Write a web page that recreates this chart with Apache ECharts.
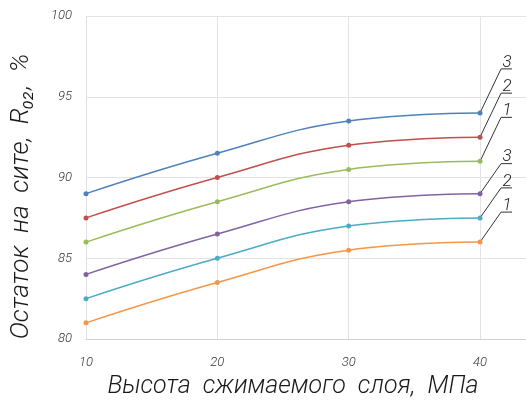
<!DOCTYPE html>
<html><head><meta charset="utf-8">
<script src="https://cdn.jsdelivr.net/npm/echarts@6/dist/echarts.min.js"></script>
<style>html,body{margin:0;padding:0;background:#fff}#c{width:526px;height:401px}</style>
</head><body><div id="c"></div>
<script>
const xValues = [10, 20, 30, 40];
const s3a = [89, 91.5, 93.5, 94];
const s2a = [87.5, 90, 92, 92.5];
const s1a = [86, 88.5, 90.5, 91];
const s3b = [84, 86.5, 88.5, 89];
const s2b = [82.5, 85, 87, 87.5];
const s1b = [81, 83.5, 85.5, 86];
const seriesValues = [s3a, s2a, s1a, s3b, s2b, s1b];
const seriesLabels = ['3', '2', '1', '3', '2', '1'];
const colors = ['#4f81bd', '#c0504d', '#9bbb59', '#8064a2', '#4bacc6', '#f79646'];
const leaderRise = [44, 44, 44, 30, 30, 30];
const FONT = 'Roboto';

const chart = echarts.init(document.getElementById('c'), null, {renderer: 'canvas'});
const lineSeries = seriesValues.map((vals, i) => ({
  type: 'line',
  data: vals.map((v, j) => [xValues[j], v]),
  smooth: 0.45,
  symbol: 'circle',
  symbolSize: 5,
  lineStyle: {color: colors[i], width: 1.5},
  itemStyle: {color: colors[i]},
  z: 3
}));
const endData = seriesValues.map((vals, i) => [xValues[xValues.length - 1], vals[vals.length - 1], i]);
const leaderSeries = {
  type: 'custom',
  data: endData,
  z: 2,
  silent: true,
  clip: false,
  renderItem(params, api) {
    const idx = api.value(2);
    const p = api.coord([api.value(0), api.value(1)]);
    const x1 = p[0] + 21, y1 = p[1] - leaderRise[idx];
    return {
      type: 'group',
      children: [
        {type: 'polyline', shape: {points: [[p[0], p[1]], [x1, y1], [x1 + 11, y1]]},
         style: {stroke: '#333', lineWidth: 1, fill: null}},
        {type: 'text', style: {text: seriesLabels[idx], x: x1 + 6, y: y1 + 2, align: 'center', verticalAlign: 'bottom',
          font: 'italic 300 17px ' + FONT, fill: '#222'}}
      ]
    };
  }
};

chart.setOption({
  animation: false,
  grid: {left: 86, right: -10, top: 16, bottom: 62, containLabel: false, outerBoundsMode: 'none'},
  xAxis: {
    type: 'value', min: 10, max: 44.26, interval: 10,
    axisLine: {show: true, lineStyle: {color: '#d0d0d0'}},
    axisTick: {show: false},
    splitLine: {show: true, lineStyle: {color: '#e3e3e3'}},
    axisLabel: {margin: 17, color: '#333', fontFamily: FONT, fontStyle: 'italic', fontWeight: 300, fontSize: 13,
      formatter: v => (v % 10 === 0 ? String(v) : '')},
    name: 'Высота  сжимаемого  слоя,  МПа',
    nameLocation: 'middle', nameGap: 34,
    nameTextStyle: {fontFamily: FONT, fontStyle: 'italic', fontWeight: 300, fontSize: 25, color: '#1a1a1a', padding: [0, 36, 0, 0]}
  },
  yAxis: {
    type: 'value', min: 80, max: 100, interval: 5,
    axisLine: {show: true, lineStyle: {color: '#e0e0e0'}},
    axisTick: {show: false},
    splitLine: {show: true, lineStyle: {color: '#e3e3e3'}},
    axisLabel: {margin: 14, color: '#333', fontFamily: FONT, fontStyle: 'italic', fontWeight: 300, fontSize: 13},
    name: 'Остаток  на  сите,  R₀₂,  %',
    nameLocation: 'middle', nameGap: 52, nameRotate: 90,
    nameTextStyle: {fontFamily: FONT, fontStyle: 'italic', fontWeight: 300, fontSize: 26, color: '#1a1a1a', padding: [0, 38, 0, 0]}
  },
  series: [...lineSeries, leaderSeries]
});
</script></body></html>
